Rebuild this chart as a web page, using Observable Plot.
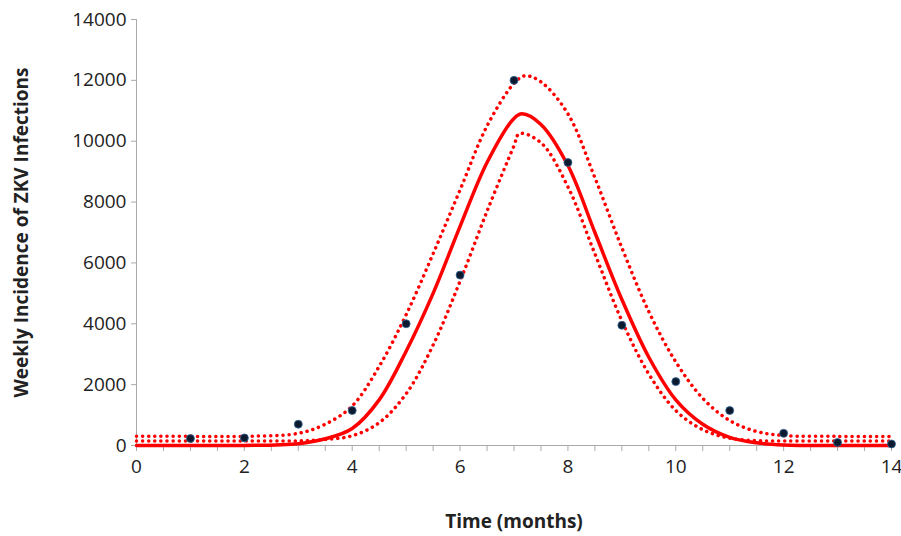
<!DOCTYPE html>
<html><head><meta charset="utf-8">
<script src="https://cdn.jsdelivr.net/npm/d3@7"></script>
<script src="https://cdn.jsdelivr.net/npm/@observablehq/plot@0.6"></script>
<style>body{margin:0;background:#fff}</style>
</head><body><div id="chart"></div>
<script>
// observed weekly incidence
const obsX = [1, 2, 3, 4, 5, 6, 7, 8, 9, 10, 11, 12, 13, 14];
const obsY = [230, 250, 700, 1150, 4000, 5600, 12000, 9300, 3950, 2100, 1150, 400, 100, 50];

// model fit
const fitX = [0, 1, 2, 3, 3.5, 4, 4.5, 5, 5.5, 6, 6.5, 7, 7.15, 7.5, 8, 8.5, 9, 9.5, 10, 10.5, 11, 11.5, 12, 13, 14];
const fitY = [0, 0, 0, 60, 220, 560, 1500, 3100, 5000, 7200, 9300, 10750, 10900, 10550, 9200, 7000, 4800, 2900, 1500, 700, 270, 90, 20, 0, 0];

// confidence bounds
const upX = [0, 1, 2, 3, 3.5, 4, 4.5, 5, 5.5, 6, 6.5, 7, 7.2, 7.5, 8, 8.5, 9, 9.5, 10, 10.5, 11, 11.5, 12, 13, 14];
const upY = [300, 300, 300, 400, 700, 1300, 2600, 4300, 6300, 8400, 10500, 11900, 12150, 11950, 10900, 8800, 6500, 4400, 2750, 1550, 820, 460, 330, 300, 300];
const loX = [0, 1, 2, 3, 3.5, 4, 4.5, 5, 5.5, 6, 6.5, 7, 7.1, 7.5, 8, 8.5, 9, 9.5, 10, 10.5, 11, 11.5, 12, 13, 14];
const loY = [150, 150, 150, 150, 200, 320, 750, 1700, 3300, 5400, 7700, 9850, 10250, 9950, 8500, 6300, 4100, 2350, 1150, 520, 240, 160, 150, 150, 150];

const xTicks = [0, 2, 4, 6, 8, 10, 12, 14];
const xMinor = [0, 0.5, 1, 1.5, 2, 2.5, 3, 3.5, 4, 4.5, 5, 5.5, 6, 6.5, 7, 7.5, 8, 8.5, 9, 9.5, 10, 10.5, 11, 11.5, 12, 12.5, 13, 13.5, 14];
const yTicks = [0, 2000, 4000, 6000, 8000, 10000, 12000, 14000];

const pts = (xs, ys) => xs.map((x, i) => ({x, y: ys[i]}));

const chart = Plot.plot({
  width: 901,
  height: 536,
  marginLeft: 136,
  marginRight: 10,
  marginTop: 19,
  marginBottom: 91,
  style: {fontFamily: "Open Sans, sans-serif", fontSize: "19px", color: "#222", overflow: "visible"},
  x: {type: "linear", domain: [0, 14]},
  y: {type: "linear", domain: [0, 14000]},
  marks: [
    Plot.ruleX([0], {stroke: "#aaa"}),
    Plot.ruleY([0], {stroke: "#aaa"}),
    Plot.axisX(xMinor, {tickSize: 6, stroke: "#aaa", text: null, label: null}),
    Plot.axisY(yTicks, {tickSize: 5, stroke: "#aaa", text: null, label: null}),
    Plot.axisX(xTicks, {tickSize: 0, tickPadding: 14, fontSize: 19, label: "Time (months)", labelAnchor: "center", labelArrow: "none", labelOffset: 82}),
    Plot.axisY(yTicks, {tickSize: 0, tickPadding: 10, fontSize: 19, tickFormat: d => String(d), label: "Weekly Incidence of ZKV Infections", labelAnchor: "center", labelArrow: "none", labelOffset: 122}),
    Plot.line(pts(upX, upY), {x: "x", y: "y", curve: "catmull-rom", stroke: "#f00", strokeWidth: 3.5, strokeDasharray: "0.1 6", strokeLinecap: "round"}),
    Plot.line(pts(loX, loY), {x: "x", y: "y", curve: "catmull-rom", stroke: "#f00", strokeWidth: 3.5, strokeDasharray: "0.1 6", strokeLinecap: "round"}),
    Plot.line(pts(fitX, fitY), {x: "x", y: "y", curve: "catmull-rom", stroke: "#f00", strokeWidth: 3.5}),
    Plot.dot(pts(obsX, obsY), {x: "x", y: "y", r: 4, fill: "#0b1a2e", stroke: "#3a6a9a", strokeWidth: 0.8})
  ]
});
chart.querySelectorAll("[aria-label='x-axis label'] text, [aria-label='y-axis label'] text").forEach(t => {
  t.setAttribute("font-weight", "bold");
  t.setAttribute("font-size", "19");
});
document.getElementById("chart").appendChild(chart);
</script></body></html>
